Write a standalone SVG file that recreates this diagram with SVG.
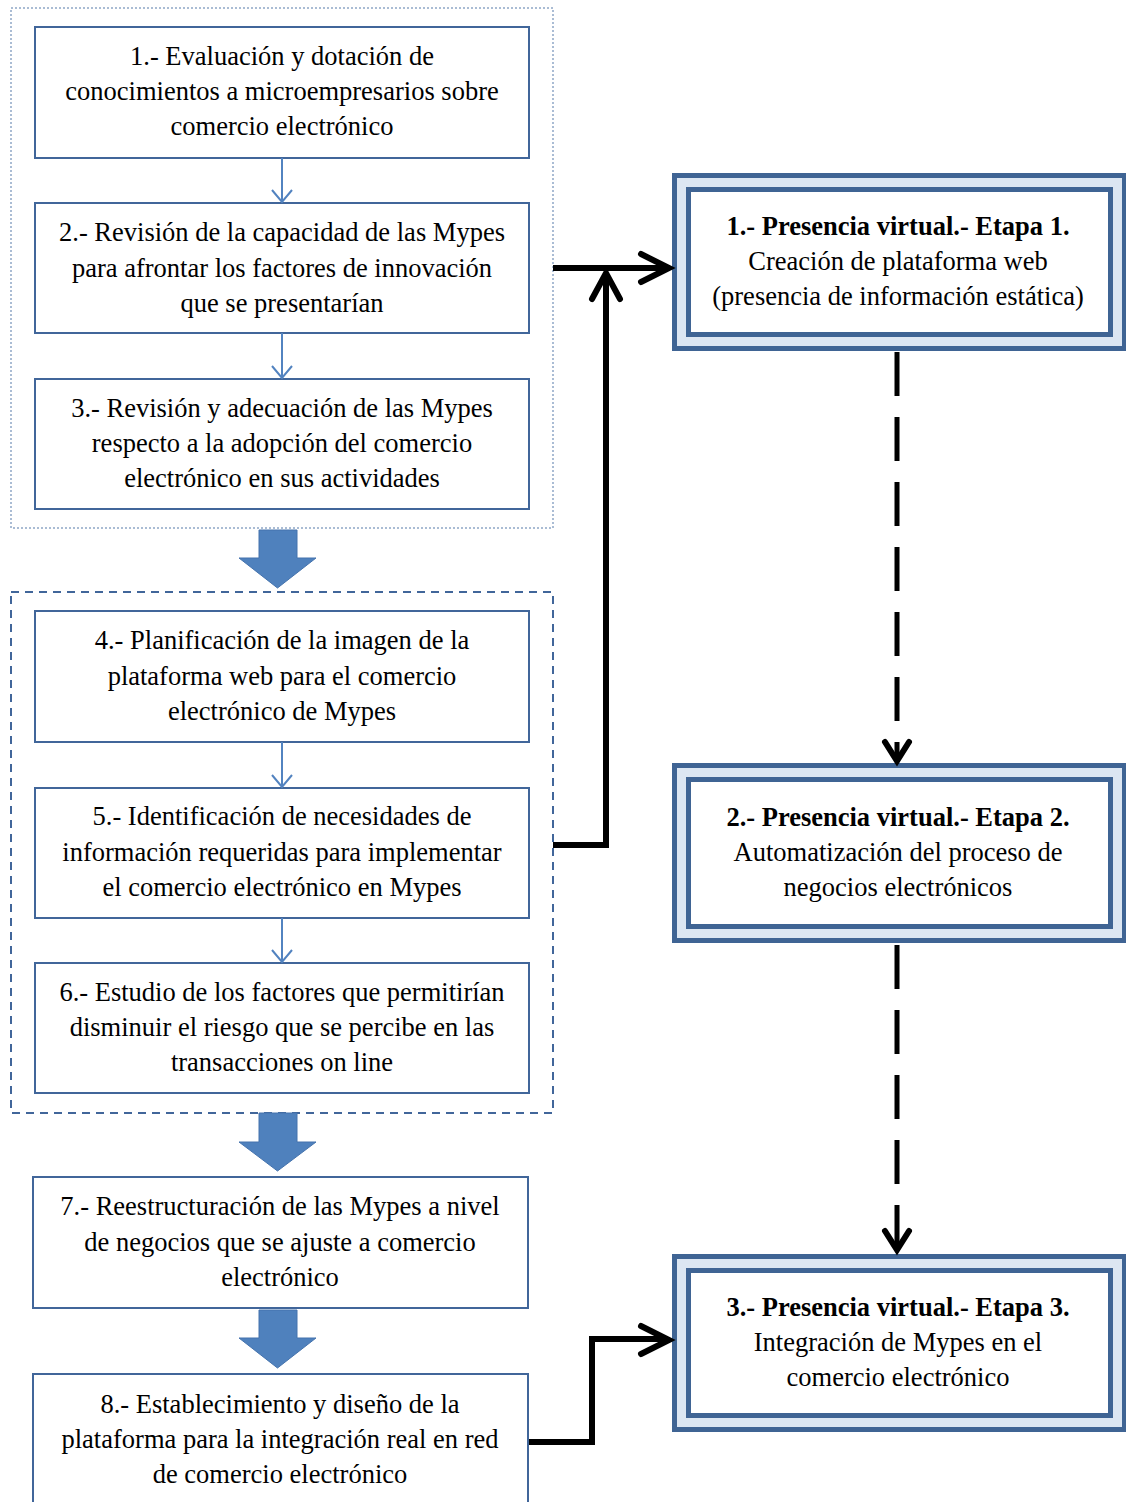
<svg xmlns="http://www.w3.org/2000/svg" width="1126" height="1502" viewBox="0 0 1126 1502">
<style>
text{font-family:"Liberation Serif","Times New Roman",serif;font-size:26.5px;fill:#000;text-anchor:middle}
.b{font-weight:bold}
.box{fill:#fff;stroke:#41669a;stroke-width:2}
.outer{fill:#dce6f2;stroke:#3f6494;stroke-width:5}
.inner{fill:#fff;stroke:#3f6494;stroke-width:5}
.small{fill:none;stroke:#5283c0;stroke-width:2}
.thick{fill:none;stroke:#000;stroke-width:6;stroke-linecap:round;stroke-linejoin:miter}
.dash{fill:none;stroke:#000;stroke-width:5;stroke-dasharray:44 21}
.block{fill:#4f81bd;stroke:#4573ad;stroke-width:1}
</style>
<g id="containers">
<rect x="11" y="8" width="542" height="520" fill="none" stroke="#8ea7c6" stroke-width="1.5" stroke-dasharray="2 2"/>
<rect x="11" y="592" width="542" height="521" fill="none" stroke="#41669a" stroke-width="2" stroke-dasharray="8 6"/>
</g>
<g id="n1"><rect class="box" x="35" y="27" width="494" height="131"/>
<text x="282" y="65">1.- Evaluación y dotación de</text><text x="282" y="100">conocimientos a microempresarios sobre</text><text x="282" y="135">comercio electrónico</text></g>
<g id="n2"><rect class="box" x="35" y="203" width="494" height="130"/>
<text x="282" y="241">2.- Revisión de la capacidad de las Mypes</text><text x="282" y="277">para afrontar los factores de innovación</text><text x="282" y="312">que se presentarían</text></g>
<g id="n3"><rect class="box" x="35" y="379" width="494" height="130"/>
<text x="282" y="417">3.- Revisión y adecuación de las Mypes</text><text x="282" y="452">respecto a la adopción del comercio</text><text x="282" y="487">electrónico en sus actividades</text></g>
<g id="n4"><rect class="box" x="35" y="611" width="494" height="131"/>
<text x="282" y="649">4.- Planificación de la imagen de la</text><text x="282" y="685">plataforma web para el comercio</text><text x="282" y="720">electrónico de Mypes</text></g>
<g id="n5"><rect class="box" x="35" y="788" width="494" height="130"/>
<text x="282" y="825">5.- Identificación de necesidades de</text><text x="282" y="861">información requeridas para implementar</text><text x="282" y="896">el comercio electrónico en Mypes</text></g>
<g id="n6"><rect class="box" x="35" y="963" width="494" height="130"/>
<text x="282" y="1001">6.- Estudio de los factores que permitirían</text><text x="282" y="1036">disminuir el riesgo que se percibe en las</text><text x="282" y="1071">transacciones on line</text></g>
<g id="n7"><rect class="box" x="33" y="1177" width="495" height="131"/>
<text x="280" y="1215">7.- Reestructuración de las Mypes a nivel</text><text x="280" y="1251">de negocios que se ajuste a comercio</text><text x="280" y="1286">electrónico</text></g>
<g id="n8"><rect class="box" x="33" y="1374" width="495" height="140"/>
<text x="280" y="1413">8.- Establecimiento y diseño de la</text><text x="280" y="1448">plataforma para la integración real en red</text><text x="280" y="1483">de comercio electrónico</text></g>
<g id="r1"><rect class="outer" x="674.5" y="175.5" width="450" height="173"/><rect class="inner" x="688.5" y="189.5" width="422" height="145"/>
<text x="898" y="235" class="b">1.- Presencia virtual.- Etapa 1.</text><text x="898" y="270">Creación de plataforma web</text><text x="898" y="305">(presencia de información estática)</text></g>
<g id="r2"><rect class="outer" x="674.5" y="765.5" width="450" height="175"/><rect class="inner" x="688.5" y="779.5" width="422" height="147"/>
<text x="898" y="826" class="b">2.- Presencia virtual.- Etapa 2.</text><text x="898" y="861">Automatización del proceso de</text><text x="898" y="896">negocios electrónicos</text></g>
<g id="r3"><rect class="outer" x="674.5" y="1256.5" width="450" height="173"/><rect class="inner" x="688.5" y="1270.5" width="422" height="145"/>
<text x="898" y="1316" class="b">3.- Presencia virtual.- Etapa 3.</text><text x="898" y="1351">Integración de Mypes en el</text><text x="898" y="1386">comercio electrónico</text></g>
<g id="connectors">
<path class="small" d="M282 158V202M272 190L282 202L292 190"/>
<path class="small" d="M282 333V378M272 366L282 378L292 366"/>
<path class="small" d="M282 742V787M272 775L282 787L292 775"/>
<path class="small" d="M282 918V962M272 950L282 962L292 950"/>
<path class="block" d="M259 530H297V558H316L277.5 588L239 558H259Z"/>
<path class="block" d="M259 1113H297V1142H316L277.5 1171L239 1142H259Z"/>
<path class="block" d="M259 1310H297V1338H316L277.5 1368L239 1338H259Z"/>
<path class="thick" style="stroke-linecap:butt" d="M553 268H668"/>
<path class="thick" d="M641 254L669 268L641 282"/>
<path class="thick" style="stroke-linecap:butt" d="M553 845H606V275"/>
<path class="thick" d="M592 299L606 273L620 299"/>
<path class="dash" d="M897 352V758"/>
<path class="thick" d="M885 742L897 761L909 742"/>
<path class="dash" d="M897 945V1250"/>
<path class="thick" d="M885 1231L897 1250L909 1231"/>
<path class="thick" style="stroke-linecap:butt" d="M529 1442H592V1339H668"/>
<path class="thick" d="M641 1326L669 1340L641 1354"/>
</g>
</svg>
